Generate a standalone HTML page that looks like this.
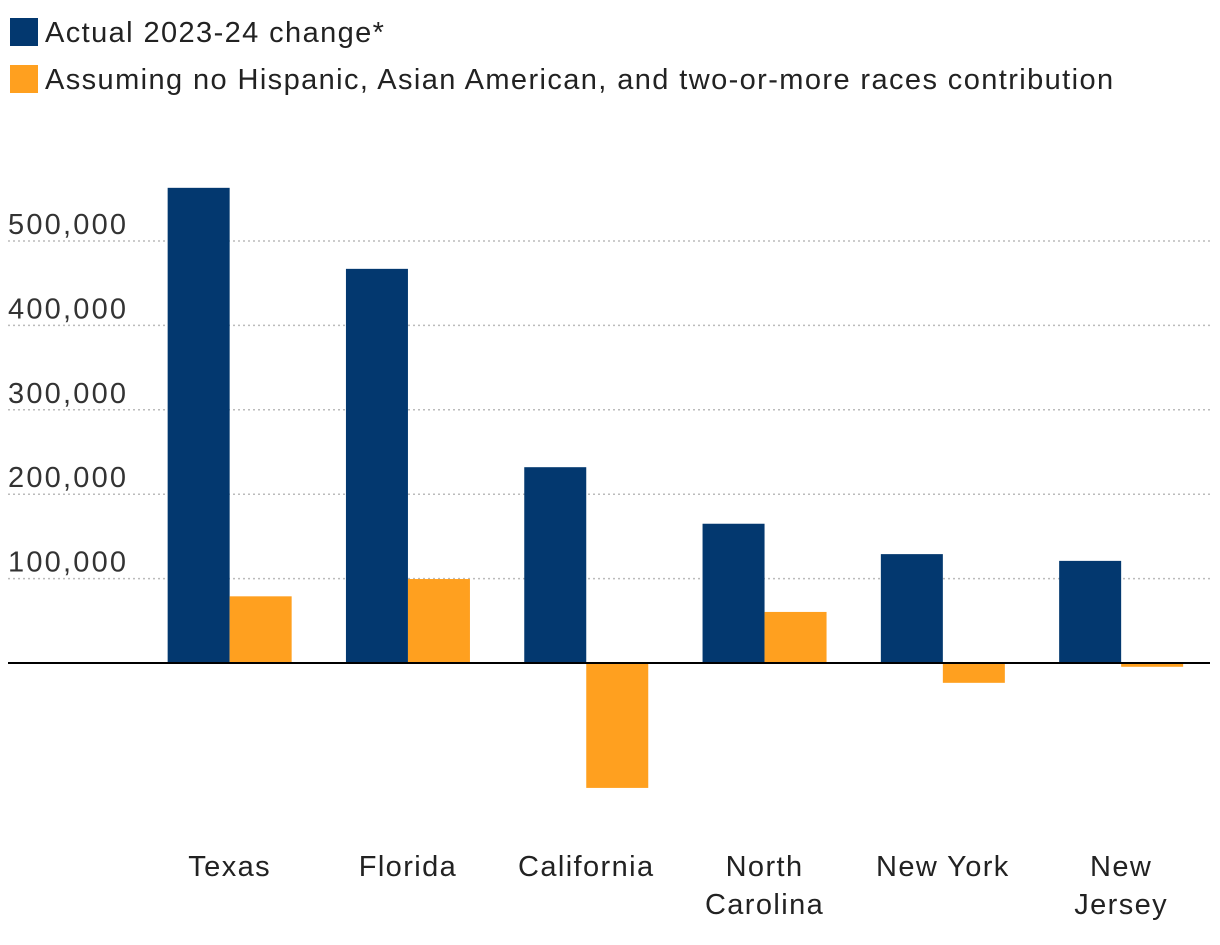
<!DOCTYPE html>
<html><head><meta charset="utf-8">
<style>
body{margin:0;background:#fff;width:1220px;height:940px;overflow:hidden;font-family:"Liberation Sans",sans-serif;}
</style></head>
<body>
<svg id="chart" width="1220" height="940" xmlns="http://www.w3.org/2000/svg">
<g id="legend">
<rect x="10" y="18" width="28" height="28" fill="#03386f"/>
<text x="45" y="42" font-size="29" letter-spacing="1.4" fill="#222">Actual 2023-24 change*</text>
<rect x="10" y="65" width="28" height="28" fill="#ffa01f"/>
<text x="45" y="89" font-size="29" letter-spacing="1.4" fill="#222">Assuming no Hispanic, Asian American, and two-or-more races contribution</text>
</g>
<g id="grid"></g><g id="bars"></g><g id="xlabels"></g>
</svg>
<script>
const categories=[["Texas"],["Florida"],["California"],["North","Carolina"],["New York"],["New","Jersey"]];
const actual=[563000,467000,232000,165000,129000,121000];
const assuming=[79000,99500,-148000,60500,-23500,-4500];
const ticks=[100000,200000,300000,400000,500000];
const tickLabels=["100,000","200,000","300,000","400,000","500,000"];
const NS="http://www.w3.org/2000/svg";
const y0=663, pxPer=84.4/100000;
function y(v){return y0-v*pxPer;}
const bandStart=140, band=178.3, barW=62;
function xc(i){return bandStart+band*i+band/2+0.5;}
function mk(t,a,p){const e=document.createElementNS(NS,t);for(const k in a)e.setAttribute(k,a[k]);p.appendChild(e);return e;}
const grid=document.getElementById('grid');
ticks.forEach((t,i)=>{
 const l=mk('line',{x1:8,x2:1210,y1:y(t),y2:y(t),stroke:'#bbb','stroke-width':1.5,'stroke-dasharray':'2,3'},grid);
 
 
 const tx=mk('text',{x:8,y:y(t)-7,'font-size':29,'letter-spacing':2.2,fill:'#333'},grid);
 tx.textContent=tickLabels[i];
 
 
});
const bars=document.getElementById('bars');
categories.forEach((c,i)=>{
 const cx=xc(i);
 const a=actual[i], b=assuming[i];
 const r1=mk('rect',{x:cx-barW,y:Math.min(y(a),y0),width:barW,height:Math.abs(y(a)-y0),fill:'#03386f'},bars);
 
 
 const r2=mk('rect',{x:cx,y:Math.min(y(b),y0),width:barW,height:Math.abs(y(b)-y0),fill:'#ffa01f'},bars);
 
 
 const t=mk('text',{x:cx,y:876,'text-anchor':'middle','font-size':29,'letter-spacing':1.4,fill:'#222'},document.getElementById('xlabels'));
 c.forEach((ln,j)=>{const s=mk('tspan',{x:cx,dy:j?38:0},t);s.textContent=ln;});
 
 
});
const zl=mk('line',{x1:8,x2:1210,y1:y0,y2:y0,stroke:'#000','stroke-width':2},bars);


</script>
</body></html>
